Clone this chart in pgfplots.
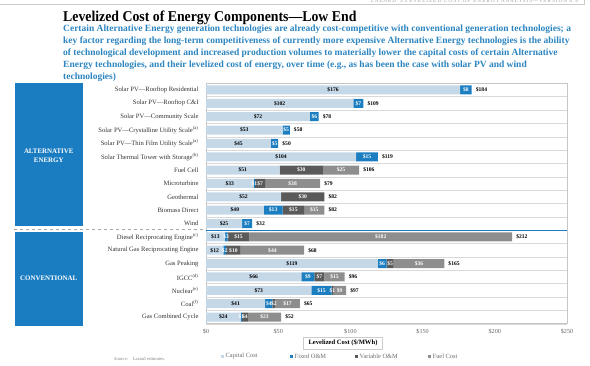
\documentclass[border=0pt]{standalone}
\usepackage{fontspec}
\setmainfont{Liberation Serif}
\usepackage{pgfplots}
\pgfplotsset{compat=1.18}
\usepackage{pgfplotstable}

\definecolor{capc}{HTML}{C5D8E8}
\definecolor{fomc}{HTML}{1B7EC0}
\definecolor{vomc}{HTML}{5A5A5A}
\definecolor{fuelc}{HTML}{8E8E8E}
\definecolor{boxblue}{HTML}{1B7DC1}
\definecolor{subblue}{HTML}{2C85C0}
\definecolor{txtgray}{HTML}{333333}

\pgfplotstableread{
y cap fom vom fuel tot lcap lfom lvom lfuel ltot
17 176 8 0 0 184 \$176 \$8 {} {} \$184
16 102 7 0 0 109 \$102 \$7 {} {} \$109
15 72 6 0 0 78 \$72 \$6 {} {} \$78
14 53 5 0 0 58 \$53 \$5 {} {} \$58
13 45 5 0 0 50 \$45 \$5 {} {} \$50
12 104 15 0 0 119 \$104 \$15 {} {} \$119
11 51 0 30 25 106 \$51 {} \$30 \$25 \$106
10 33 1 7 38 79 \$33 \$1 \$7 \$38 \$79
9 52 0 30 0 82 \$52 {} \$30 {} \$82
8 40 13 15 14 82 \$40 \$13 \$15 \$15 \$82
7 25 7 0 0 32 \$25 \$7 {} {} \$32
6 13 2 15 182 212 \$13 \$3 \$15 \$182 \$212
5 12 2 10 44 68 \$12 \$2 \$10 \$44 \$68
4 119 6 5 35 165 \$119 \$6 \$5 \$36 \$165
3 66 9 7 14 96 \$66 \$9 \$7 \$15 \$96
2 73 14 1 9 97 \$73 \$15 \$1 \$9 \$97
1 41 5 2 17 65 \$41 \$4 \$2 \$17 \$65
0 24 1 4 23 52 \$24 \$1 \$4 \$23 \$52
}\lcoe

\pgfplotsset{
  seg/.style={
    point meta=explicit symbolic,
    nodes near coords={\pgfplotspointmeta},
    every node near coord/.append style={anchor=center, inner sep=0pt,
      font=\fontsize{5.6}{6}\selectfont\bfseries},
  },
  myframe/.style={
    at={(206pt,41.3pt)}, anchor=south west,
    scale only axis, width=361pt, height=240.4pt,
    xmin=0, xmax=250, ymin=-0.5, ymax=17.5,
  },
}

\begin{document}
\begin{tikzpicture}[x=1pt,y=1pt]
\useasboundingbox (0,0) rectangle (590,365);
% header
\draw[gray!40, line width=0.5pt] (0,360.5) -- (584,360.5) -- (584,365);
\node[anchor=base east, font=\fontsize{5.5}{6}\selectfont\itshape, text=gray!70] at (582,362.5) {\addfontfeature{LetterSpace=18}LAZARD'S LEVELIZED COST OF ENERGY ANALYSIS---VERSION 8.0};
% title
\node[anchor=base west, inner sep=0pt] at (63,343.5) {\scalebox{0.92}[1]{\fontsize{15}{18}\selectfont\bfseries Levelized Cost of Energy Components---Low End}};
\begin{scope}[every node/.style={anchor=base west, inner sep=0pt, text=subblue, font=\fontsize{9.5}{11}\selectfont\bfseries}]
\node at (63,333) {Certain Alternative Energy generation technologies are already cost-competitive with conventional generation technologies; a};
\node at (63,321.2) {key factor regarding the long-term competitiveness of currently more expensive Alternative Energy technologies is the ability};
\node at (63,309.4) {of technological development and increased production volumes to materially lower the capital costs of certain Alternative};
\node at (63,297.6) {Energy technologies, and their levelized cost of energy, over time (e.g., as has been the case with solar PV and wind};
\node at (63,285.8) {technologies)};
\end{scope}
% category boxes
\fill[boxblue] (14.5,139) rectangle (83,282);
\fill[boxblue] (14.5,39) rectangle (83,133);
\node[align=center, text=white, font=\fontsize{6.9}{8.7}\selectfont\bfseries] at (48.75,209) {ALTERNATIVE\\ENERGY};
\node[align=center, text=white, font=\fontsize{6.9}{8.7}\selectfont\bfseries] at (48.75,87) {CONVENTIONAL};
\draw[gray!70, dashed, line width=0.5pt] (14,135.5) -- (206,135.5);

\begin{axis}[
  myframe,
  xbar stacked, bar width=9pt,
  xtick={0,50,...,250},
  xticklabel={\$\pgfmathprintnumber{\tick}},
  /pgf/number format/assume math mode=true,
  ytick={0,...,17},
  yticklabels={{Gas Combined Cycle},{Coal\textsuperscript{(f)}},{Nuclear\textsuperscript{(e)}},{IGCC\textsuperscript{(d)}},{Gas Peaking},{Natural Gas Reciprocating Engine},{Diesel Reciprocating Engine\textsuperscript{(c)}},{Wind},{Biomass Direct},{Geothermal},{Microturbine},{Fuel Cell},{Solar Thermal Tower with Storage\textsuperscript{(b)}},{Solar PV---Thin Film Utility Scale\textsuperscript{(a)}},{Solar PV---Crystalline Utility Scale\textsuperscript{(a)}},{Solar PV---Community Scale},{Solar PV---Rooftop C\&I},{Solar PV---Rooftop Residential}},
  major tick length=0, minor tick length=0,
  minor ytick={-0.5,0.5,...,17.5},
  yminorgrids=true,
  minor grid style={gray!30, line width=0.4pt},
  axis line style={gray!45, line width=0.6pt},
  yticklabel style={font=\fontsize{6.6}{7}\selectfont, text=txtgray, xshift=-4pt},
  xticklabel style={font=\fontsize{6.2}{7}\selectfont, text=gray!80!black, yshift=-2pt},
  clip=false,
]
\addplot[fill=capc, draw=none, seg, every node near coord/.append style={text=black}] table[x=cap,y=y,meta=lcap] {\lcoe};
\addplot[fill=fomc, draw=none, seg, every node near coord/.append style={text=white}] table[x=fom,y=y,meta=lfom] {\lcoe};
\addplot[fill=vomc, draw=none, seg, every node near coord/.append style={text=white}] table[x=vom,y=y,meta=lvom] {\lcoe};
\addplot[fill=fuelc, draw=none, seg, every node near coord/.append style={text=white}] table[x=fuel,y=y,meta=lfuel] {\lcoe};
\draw[boxblue, line width=0.6pt] (axis cs:0,6.5) -- (axis cs:250,6.5);
\end{axis}
\begin{axis}[myframe, hide axis, clip=false]
\addplot[only marks, mark=none, point meta=explicit symbolic,
  nodes near coords={\pgfplotspointmeta},
  every node near coord/.append style={anchor=west, inner sep=0pt, xshift=4pt, text=black, font=\fontsize{5.6}{6}\selectfont\bfseries}] table[x=tot,y=y,meta=ltot] {\lcoe};
\end{axis}

% axis title box
\node[draw=gray!40, line width=0.5pt, fill=white, inner xsep=5pt, inner ysep=3pt, font=\fontsize{6.6}{7}\selectfont\bfseries] at (343,22) {Levelized Cost (\$/MWh)};
% legend
\begin{scope}[font=\fontsize{6.4}{7}\selectfont, text=gray!85!black]
\fill[capc] (220.5,7.5) rectangle (223.5,10.5);
\node[anchor=west, inner sep=0pt] at (225.5,9) {Capital Cost};
\fill[fomc] (289.5,7.5) rectangle (292.5,10.5);
\node[anchor=west, inner sep=0pt] at (294.5,9) {Fixed O\&M};
\fill[vomc] (354.5,7.5) rectangle (357.5,10.5);
\node[anchor=west, inner sep=0pt] at (359.5,9) {Variable O\&M};
\fill[fuelc] (427.5,7.5) rectangle (430.5,10.5);
\node[anchor=west, inner sep=0pt] at (432.5,9) {Fuel Cost};
\end{scope}
\node[anchor=west, inner sep=0pt, font=\fontsize{4.6}{5}\selectfont, text=gray] at (114,6) {\textit{Source:}\quad Lazard estimates.};
\end{tikzpicture}
\end{document}
